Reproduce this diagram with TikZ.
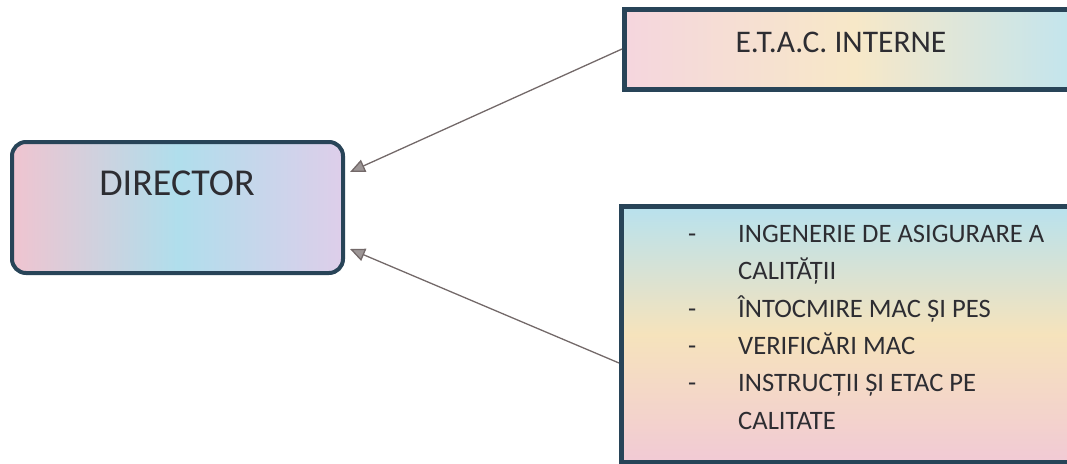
\documentclass[tikz,border=0pt]{standalone}
\usepackage{fontspec}
\setmainfont{Carlito}
\usetikzlibrary{arrows.meta,positioning}
\definecolor{edgec}{RGB}{40,68,88}
\definecolor{txtc}{RGB}{45,45,50}
\definecolor{arrc}{RGB}{115,105,105}
\definecolor{pk}{RGB}{240,196,208}
\definecolor{yl}{RGB}{244,222,176}
\definecolor{cy}{RGB}{176,222,236}
\definecolor{lv}{RGB}{222,206,234}
\tikzset{
  dirbox/.style={draw=edgec,line width=4pt,rounded corners=14pt,
    minimum width=331pt,minimum height=131pt,inner sep=0pt,
    left color=pk,right color=lv,middle color=cy},
  infobox/.style={draw=edgec,line width=4.5pt,inner sep=0pt,anchor=north west},
  lbl/.style={text=txtc,inner sep=0pt},
  conn/.style={draw=arrc,line width=1.3pt,-{Triangle[length=15pt,width=13pt,fill=arrc!70]}}
}
\begin{document}
\begin{tikzpicture}[x=1pt,y=-1pt]
\useasboundingbox (0,0) rectangle (1067,463);
% DIRECTOR box
\node[dirbox] (director) at (177.5,207.5) {};
\node[lbl,font=\fontsize{38}{42}\selectfont] (dirtext) at (177,183) {DIRECTOR};
% E.T.A.C. INTERNE box
\node[infobox,minimum width=460pt,minimum height=80pt,
  left color=pk!70,right color=cy!80,middle color=yl!70] (etac) at (622,7) {};
\node[lbl,font=\fontsize{31.5}{36}\selectfont] (etactext) at (841,42) {E.T.A.C. INTERNE};
% bottom list box
\node[infobox,minimum width=460pt,minimum height=256pt,
  top color=cy!90,bottom color=pk!90,middle color=yl!85] (list) at (619,204) {};
\node[lbl,anchor=north west,font=\fontsize{26.6}{37.4}\selectfont] (listtext) at (688,216)
 {\begin{tabular}{@{}p{50pt}@{}l@{}}
  - & INGENERIE DE ASIGURARE A\\
    & CALITĂȚII\\
  - & ÎNTOCMIRE MAC ȘI PES\\
  - & VERIFICĂRI MAC\\
  - & INSTRUCȚII ȘI ETAC PE\\
    & CALITATE
  \end{tabular}};
% connectors
\coordinate (d1) at (350,172);
\coordinate (d2) at (350,249);
\draw[conn] (etac.west |- 0,49) -- (d1);
\draw[conn] (list.west |- 0,363) -- (d2);
\end{tikzpicture}
\end{document}
